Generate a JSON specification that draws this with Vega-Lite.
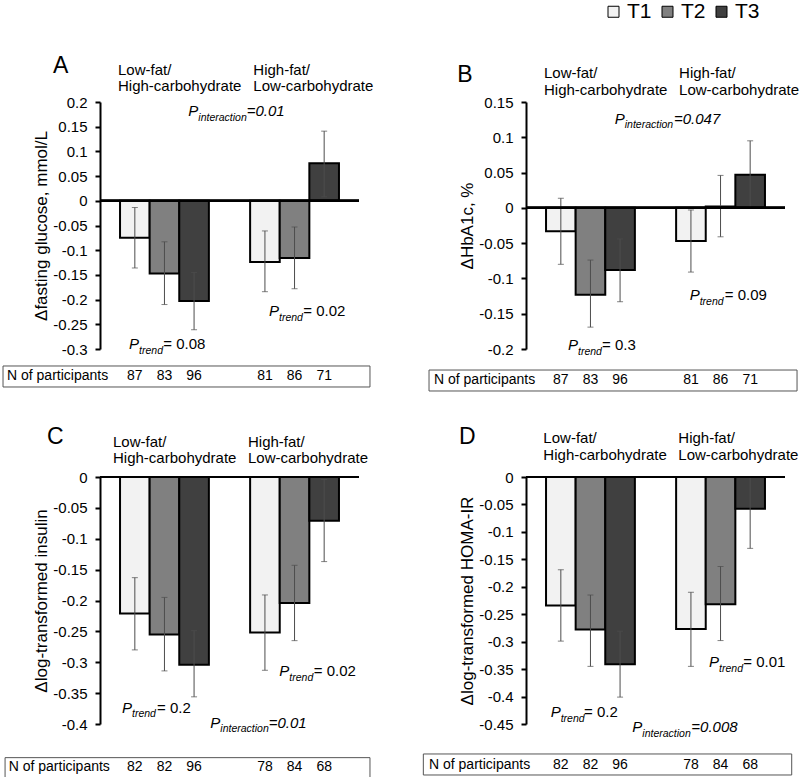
{
 "$schema": "https://vega.github.io/schema/vega-lite/v6.json",
 "padding": {"left": 2, "top": 1, "right": 0, "bottom": 0},
 "columns": 2,
 "spacing": {"row": 128, "column": 167},
 "bounds": "flush",
 "resolve": {"scale": {"fill": "independent"}, "legend": {"fill": "independent"}},
 "datasets": {
  "a": [
   {"g": "L", "t": "T1", "v": -0.075, "lo": -0.136, "hi": -0.0135, "n": 87},
   {"g": "L", "t": "T2", "v": -0.147, "lo": -0.21, "hi": -0.083, "n": 83},
   {"g": "L", "t": "T3", "v": -0.203, "lo": -0.261, "hi": -0.145, "n": 96},
   {"g": "H", "t": "T1", "v": -0.124, "lo": -0.184, "hi": -0.061, "n": 81},
   {"g": "H", "t": "T2", "v": -0.116, "lo": -0.178, "hi": -0.053, "n": 86},
   {"g": "H", "t": "T3", "v": 0.076, "lo": 0.008, "hi": 0.141, "n": 71}
  ],
  "b": [
   {"g": "L", "t": "T1", "v": -0.033, "lo": -0.08, "hi": 0.0136, "n": 87},
   {"g": "L", "t": "T2", "v": -0.123, "lo": -0.169, "hi": -0.074, "n": 83},
   {"g": "L", "t": "T3", "v": -0.088, "lo": -0.133, "hi": -0.044, "n": 96},
   {"g": "H", "t": "T1", "v": -0.047, "lo": -0.091, "hi": -0.003, "n": 81},
   {"g": "H", "t": "T2", "v": 0.002, "lo": -0.041, "hi": 0.046, "n": 86},
   {"g": "H", "t": "T3", "v": 0.047, "lo": 0.0, "hi": 0.095, "n": 71}
  ],
  "c": [
   {"g": "L", "t": "T1", "v": -0.221, "lo": -0.28, "hi": -0.163, "n": 82},
   {"g": "L", "t": "T2", "v": -0.255, "lo": -0.314, "hi": -0.195, "n": 82},
   {"g": "L", "t": "T3", "v": -0.304, "lo": -0.356, "hi": -0.249, "n": 96},
   {"g": "H", "t": "T1", "v": -0.252, "lo": -0.313, "hi": -0.191, "n": 78},
   {"g": "H", "t": "T2", "v": -0.204, "lo": -0.265, "hi": -0.143, "n": 84},
   {"g": "H", "t": "T3", "v": -0.071, "lo": -0.137, "hi": -0.004, "n": 68}
  ],
  "d": [
   {"g": "L", "t": "T1", "v": -0.234, "lo": -0.299, "hi": -0.169, "n": 82},
   {"g": "L", "t": "T2", "v": -0.278, "lo": -0.345, "hi": -0.215, "n": 82},
   {"g": "L", "t": "T3", "v": -0.341, "lo": -0.401, "hi": -0.281, "n": 96},
   {"g": "H", "t": "T1", "v": -0.277, "lo": -0.345, "hi": -0.21, "n": 78},
   {"g": "H", "t": "T2", "v": -0.232, "lo": -0.298, "hi": -0.163, "n": 84},
   {"g": "H", "t": "T3", "v": -0.058, "lo": -0.13, "hi": 0.0, "n": 68}
  ]
 },
 "concat": [
  {
   "width": 259, "height": 247,
   "data": {"name": "a"},
   "layer": [
    {"mark": {"type": "bar", "stroke": "black", "strokeWidth": 2},
     "encoding": {
      "x": {"field": "g", "type": "nominal", "scale": {"domain": ["L", "H"], "paddingInner": 0.317, "paddingOuter": 0.154}, "axis": null},
      "xOffset": {"field": "t", "type": "nominal", "scale": {"domain": ["T1", "T2", "T3"], "paddingInner": 0, "paddingOuter": 0}},
      "y": {"field": "v", "type": "quantitative", "title": "Δfasting glucose, mmol/L", "scale": {"domain": [-0.3, 0.2], "nice": false, "zero": false},
            "axis": {"values": [0.2, 0.15, 0.1, 0.05, 0, -0.05, -0.1, -0.15, -0.2, -0.25, -0.3], "tickCount": 30, "labelExpr": "toString(datum.value)", "labelOverlap": false}},
      "fill": {"field": "t", "type": "nominal", "scale": {"domain": ["T1", "T2", "T3"], "range": ["#f2f2f2", "#808080", "#404040"]}, "legend": null}
     }},
    {"mark": {"type": "rule", "color": "#4d4d4d", "strokeWidth": 1},
     "encoding": {"x": {"field": "g", "type": "nominal"}, "xOffset": {"field": "t", "type": "nominal"},
      "y": {"field": "lo", "type": "quantitative", "title": "Δfasting glucose, mmol/L"}, "y2": {"field": "hi"}}},
    {"mark": {"type": "tick", "color": "#4d4d4d", "thickness": 1, "size": 6},
     "encoding": {"x": {"field": "g", "type": "nominal"}, "xOffset": {"field": "t", "type": "nominal"},
      "y": {"field": "lo", "type": "quantitative", "title": "Δfasting glucose, mmol/L"}}},
    {"mark": {"type": "tick", "color": "#4d4d4d", "thickness": 1, "size": 6},
     "encoding": {"x": {"field": "g", "type": "nominal"}, "xOffset": {"field": "t", "type": "nominal"},
      "y": {"field": "hi", "type": "quantitative", "title": "Δfasting glucose, mmol/L"}}},
    {"mark": {"type": "rule", "color": "black", "strokeWidth": 2}, "encoding": {"y": {"datum": 0, "type": "quantitative"}}},
    {"mark": {"type": "text", "fontSize": 14},
     "encoding": {"x": {"field": "g", "type": "nominal"}, "xOffset": {"field": "t", "type": "nominal"},
      "y": {"datum": -0.3628, "type": "quantitative"}, "text": {"field": "n", "type": "quantitative"}}},
    {"data": {"values": [{}]}, "mark": {"type": "rect", "fill": null, "stroke": "#555", "strokeWidth": 1},
     "encoding": {"x": {"datum": "L", "type": "nominal", "bandPosition": -1.317}, "x2": {"datum": "H", "bandPosition": 1.349},
      "y": {"datum": -0.3344, "type": "quantitative"}, "y2": {"datum": -0.3769}}},
    {"data": {"values": [{}]}, "mark": {"type": "text", "text": "N of participants", "fontSize": 14, "align": "left"},
     "encoding": {"x": {"datum": "L", "type": "nominal", "bandPosition": -1.272}, "y": {"datum": -0.3628, "type": "quantitative"}}},
    {"data": {"values": [{}]}, "mark": {"type": "text", "text": "A", "fontSize": 23, "align": "left"},
     "encoding": {"x": {"datum": "L", "type": "nominal", "bandPosition": -0.754}, "y": {"datum": 0.2587, "type": "quantitative"}}},
    {"data": {"values": [{}]}, "mark": {"type": "text", "text": ["Low-fat/", "High-carbohydrate"], "lineHeight": 16.5, "align": "left"},
     "encoding": {"x": {"datum": "L", "type": "nominal", "bandPosition": -0.023}, "y": {"datum": 0.2547, "type": "quantitative"}}},
    {"data": {"values": [{}]}, "mark": {"type": "text", "text": ["High-fat/", "Low-carbohydrate"], "lineHeight": 16.5, "align": "left"},
     "encoding": {"x": {"datum": "H", "type": "nominal", "bandPosition": 0.036}, "y": {"datum": 0.2547, "type": "quantitative"}}},
    {"data": {"values": [{}]}, "mark": {"type": "text", "text": "P", "fontStyle": "italic", "align": "right"},
     "encoding": {"x": {"datum": "L", "type": "nominal", "bandPosition": 0.881}, "y": {"datum": 0.171, "type": "quantitative"}}},
    {"data": {"values": [{}]}, "mark": {"type": "text", "text": "interaction", "fontStyle": "italic", "fontSize": 10.5, "align": "left", "dy": 4.5},
     "encoding": {"x": {"datum": "L", "type": "nominal", "bandPosition": 0.881}, "y": {"datum": 0.171, "type": "quantitative"}}},
    {"data": {"values": [{}]}, "mark": {"type": "text", "text": "=0.01", "fontStyle": "italic", "align": "left"},
     "encoding": {"x": {"datum": "H", "type": "nominal", "bandPosition": -0.038}, "y": {"datum": 0.171, "type": "quantitative"}}},
    {"data": {"values": [{}]}, "mark": {"type": "text", "text": "P", "fontStyle": "italic", "align": "right"},
     "encoding": {"x": {"datum": "L", "type": "nominal", "bandPosition": 0.214}, "y": {"datum": -0.3, "type": "quantitative"}}},
    {"data": {"values": [{}]}, "mark": {"type": "text", "text": "trend", "fontStyle": "italic", "fontSize": 10.5, "align": "left", "dy": 4.5},
     "encoding": {"x": {"datum": "L", "type": "nominal", "bandPosition": 0.214}, "y": {"datum": -0.3, "type": "quantitative"}}},
    {"data": {"values": [{}]}, "mark": {"type": "text", "text": "= 0.08", "align": "left"},
     "encoding": {"x": {"datum": "L", "type": "nominal", "bandPosition": 0.487}, "y": {"datum": -0.3, "type": "quantitative"}}},
    {"data": {"values": [{}]}, "mark": {"type": "text", "text": "P", "fontStyle": "italic", "align": "right"},
     "encoding": {"x": {"datum": "H", "type": "nominal", "bandPosition": 0.325}, "y": {"datum": -0.2338, "type": "quantitative"}}},
    {"data": {"values": [{}]}, "mark": {"type": "text", "text": "trend", "fontStyle": "italic", "fontSize": 10.5, "align": "left", "dy": 4.5},
     "encoding": {"x": {"datum": "H", "type": "nominal", "bandPosition": 0.325}, "y": {"datum": -0.2338, "type": "quantitative"}}},
    {"data": {"values": [{}]}, "mark": {"type": "text", "text": "= 0.02", "align": "left"},
     "encoding": {"x": {"datum": "H", "type": "nominal", "bandPosition": 0.599}, "y": {"datum": -0.2338, "type": "quantitative"}}}
   ]
  },
  {
   "width": 259, "height": 247,
   "data": {"name": "b"},
   "layer": [
    {"mark": {"type": "bar", "stroke": "black", "strokeWidth": 2},
     "encoding": {
      "x": {"field": "g", "type": "nominal", "scale": {"domain": ["L", "H"], "paddingInner": 0.317, "paddingOuter": 0.154}, "axis": null},
      "xOffset": {"field": "t", "type": "nominal", "scale": {"domain": ["T1", "T2", "T3"], "paddingInner": 0, "paddingOuter": 0}},
      "y": {"field": "v", "type": "quantitative", "title": "ΔHbA1c, %", "scale": {"domain": [-0.2, 0.15], "nice": false, "zero": false},
            "axis": {"values": [0.15, 0.1, 0.05, 0, -0.05, -0.1, -0.15, -0.2], "tickCount": 30, "labelExpr": "toString(datum.value)", "labelOverlap": false}},
      "fill": {"field": "t", "type": "nominal", "scale": {"domain": ["T1", "T2", "T3"], "range": ["#f2f2f2", "#808080", "#404040"]},
               "legend": {"title": null, "orient": "none", "legendX": 77, "legendY": -101, "direction": "horizontal", "symbolType": "square", "symbolSize": 121,
                          "symbolStrokeColor": "black", "symbolStrokeWidth": 1, "labelFontSize": 21, "labelOffset": 3, "columnPadding": 5, "padding": 0, "labelColor": "black"}}
     }},
    {"mark": {"type": "rule", "color": "#4d4d4d", "strokeWidth": 1},
     "encoding": {"x": {"field": "g", "type": "nominal"}, "xOffset": {"field": "t", "type": "nominal"},
      "y": {"field": "lo", "type": "quantitative", "title": "ΔHbA1c, %"}, "y2": {"field": "hi"}}},
    {"mark": {"type": "tick", "color": "#4d4d4d", "thickness": 1, "size": 6},
     "encoding": {"x": {"field": "g", "type": "nominal"}, "xOffset": {"field": "t", "type": "nominal"},
      "y": {"field": "lo", "type": "quantitative", "title": "ΔHbA1c, %"}}},
    {"mark": {"type": "tick", "color": "#4d4d4d", "thickness": 1, "size": 6},
     "encoding": {"x": {"field": "g", "type": "nominal"}, "xOffset": {"field": "t", "type": "nominal"},
      "y": {"field": "hi", "type": "quantitative", "title": "ΔHbA1c, %"}}},
    {"mark": {"type": "rule", "color": "black", "strokeWidth": 2}, "encoding": {"y": {"datum": 0, "type": "quantitative"}}},
    {"mark": {"type": "text", "fontSize": 14},
     "encoding": {"x": {"field": "g", "type": "nominal"}, "xOffset": {"field": "t", "type": "nominal"},
      "y": {"datum": -0.25, "type": "quantitative"}, "text": {"field": "n", "type": "quantitative"}}},
    {"data": {"values": [{}]}, "mark": {"type": "rect", "fill": null, "stroke": "#555", "strokeWidth": 1},
     "encoding": {"x": {"datum": "L", "type": "nominal", "bandPosition": -1.317}, "x2": {"datum": "H", "bandPosition": 1.361},
      "y": {"datum": -0.2298, "type": "quantitative"}, "y2": {"datum": -0.2595}}},
    {"data": {"values": [{}]}, "mark": {"type": "text", "text": "N of participants", "fontSize": 14, "align": "left"},
     "encoding": {"x": {"datum": "L", "type": "nominal", "bandPosition": -1.261}, "y": {"datum": -0.25, "type": "quantitative"}}},
    {"data": {"values": [{}]}, "mark": {"type": "text", "text": "B", "fontSize": 23, "align": "left"},
     "encoding": {"x": {"datum": "L", "type": "nominal", "bandPosition": -0.998}, "y": {"datum": 0.1783, "type": "quantitative"}}},
    {"data": {"values": [{}]}, "mark": {"type": "text", "text": ["Low-fat/", "High-carbohydrate"], "lineHeight": 16.5, "align": "left"},
     "encoding": {"x": {"datum": "L", "type": "nominal", "bandPosition": -0.023}, "y": {"datum": 0.184, "type": "quantitative"}}},
    {"data": {"values": [{}]}, "mark": {"type": "text", "text": ["High-fat/", "Low-carbohydrate"], "lineHeight": 16.5, "align": "left"},
     "encoding": {"x": {"datum": "H", "type": "nominal", "bandPosition": 0.033}, "y": {"datum": 0.184, "type": "quantitative"}}},
    {"data": {"values": [{}]}, "mark": {"type": "text", "text": "P", "fontStyle": "italic", "align": "right"},
     "encoding": {"x": {"datum": "L", "type": "nominal", "bandPosition": 0.886}, "y": {"datum": 0.1193, "type": "quantitative"}}},
    {"data": {"values": [{}]}, "mark": {"type": "text", "text": "interaction", "fontStyle": "italic", "fontSize": 10.5, "align": "left", "dy": 4.5},
     "encoding": {"x": {"datum": "L", "type": "nominal", "bandPosition": 0.886}, "y": {"datum": 0.1193, "type": "quantitative"}}},
    {"data": {"values": [{}]}, "mark": {"type": "text", "text": "=0.047", "fontStyle": "italic", "align": "left"},
     "encoding": {"x": {"datum": "H", "type": "nominal", "bandPosition": -0.024}, "y": {"datum": 0.1193, "type": "quantitative"}}},
    {"data": {"values": [{}]}, "mark": {"type": "text", "text": "P", "fontStyle": "italic", "align": "right"},
     "encoding": {"x": {"datum": "L", "type": "nominal", "bandPosition": 0.36}, "y": {"datum": -0.2018, "type": "quantitative"}}},
    {"data": {"values": [{}]}, "mark": {"type": "text", "text": "trend", "fontStyle": "italic", "fontSize": 10.5, "align": "left", "dy": 4.5},
     "encoding": {"x": {"datum": "L", "type": "nominal", "bandPosition": 0.36}, "y": {"datum": -0.2018, "type": "quantitative"}}},
    {"data": {"values": [{}]}, "mark": {"type": "text", "text": "= 0.3", "align": "left"},
     "encoding": {"x": {"datum": "L", "type": "nominal", "bandPosition": 0.63}, "y": {"datum": -0.2018, "type": "quantitative"}}},
    {"data": {"values": [{}]}, "mark": {"type": "text", "text": "P", "fontStyle": "italic", "align": "right"},
     "encoding": {"x": {"datum": "H", "type": "nominal", "bandPosition": 0.265}, "y": {"datum": -0.131, "type": "quantitative"}}},
    {"data": {"values": [{}]}, "mark": {"type": "text", "text": "trend", "fontStyle": "italic", "fontSize": 10.5, "align": "left", "dy": 4.5},
     "encoding": {"x": {"datum": "H", "type": "nominal", "bandPosition": 0.265}, "y": {"datum": -0.131, "type": "quantitative"}}},
    {"data": {"values": [{}]}, "mark": {"type": "text", "text": "= 0.09", "align": "left"},
     "encoding": {"x": {"datum": "H", "type": "nominal", "bandPosition": 0.547}, "y": {"datum": -0.131, "type": "quantitative"}}}
   ]
  },
  {
   "width": 259, "height": 247,
   "data": {"name": "c"},
   "layer": [
    {"mark": {"type": "bar", "stroke": "black", "strokeWidth": 2},
     "encoding": {
      "x": {"field": "g", "type": "nominal", "scale": {"domain": ["L", "H"], "paddingInner": 0.317, "paddingOuter": 0.154}, "axis": null},
      "xOffset": {"field": "t", "type": "nominal", "scale": {"domain": ["T1", "T2", "T3"], "paddingInner": 0, "paddingOuter": 0}},
      "y": {"field": "v", "type": "quantitative", "title": "Δlog-transformed insulin", "scale": {"domain": [-0.4, 0], "nice": false, "zero": false},
            "axis": {"values": [0, -0.05, -0.1, -0.15, -0.2, -0.25, -0.3, -0.35, -0.4], "tickCount": 30, "labelExpr": "toString(datum.value)", "labelOverlap": false}},
      "fill": {"field": "t", "type": "nominal", "scale": {"domain": ["T1", "T2", "T3"], "range": ["#f2f2f2", "#808080", "#404040"]}, "legend": null}
     }},
    {"mark": {"type": "rule", "color": "#4d4d4d", "strokeWidth": 1},
     "encoding": {"x": {"field": "g", "type": "nominal"}, "xOffset": {"field": "t", "type": "nominal"},
      "y": {"field": "lo", "type": "quantitative", "title": "Δlog-transformed insulin"}, "y2": {"field": "hi"}}},
    {"mark": {"type": "tick", "color": "#4d4d4d", "thickness": 1, "size": 6},
     "encoding": {"x": {"field": "g", "type": "nominal"}, "xOffset": {"field": "t", "type": "nominal"},
      "y": {"field": "lo", "type": "quantitative", "title": "Δlog-transformed insulin"}}},
    {"mark": {"type": "tick", "color": "#4d4d4d", "thickness": 1, "size": 6},
     "encoding": {"x": {"field": "g", "type": "nominal"}, "xOffset": {"field": "t", "type": "nominal"},
      "y": {"field": "hi", "type": "quantitative", "title": "Δlog-transformed insulin"}}},
    {"mark": {"type": "rule", "color": "black", "strokeWidth": 2}, "encoding": {"y": {"datum": 0, "type": "quantitative"}}},
    {"mark": {"type": "text", "fontSize": 14},
     "encoding": {"x": {"field": "g", "type": "nominal"}, "xOffset": {"field": "t", "type": "nominal"},
      "y": {"datum": -0.4761, "type": "quantitative"}, "text": {"field": "n", "type": "quantitative"}}},
    {"data": {"values": [{}]}, "mark": {"type": "rect", "fill": null, "stroke": "#555", "strokeWidth": 1},
     "encoding": {"x": {"datum": "L", "type": "nominal", "bandPosition": -1.294}, "x2": {"datum": "H", "bandPosition": 1.349},
      "y": {"datum": -0.4545, "type": "quantitative"}, "y2": {"datum": -0.487}}},
    {"data": {"values": [{}]}, "mark": {"type": "text", "text": "N of participants", "fontSize": 14, "align": "left"},
     "encoding": {"x": {"datum": "L", "type": "nominal", "bandPosition": -1.253}, "y": {"datum": -0.4761, "type": "quantitative"}}},
    {"data": {"values": [{}]}, "mark": {"type": "text", "text": "C", "fontSize": 23, "align": "left"},
     "encoding": {"x": {"datum": "L", "type": "nominal", "bandPosition": -0.822}, "y": {"datum": 0.0539, "type": "quantitative"}}},
    {"data": {"values": [{}]}, "mark": {"type": "text", "text": ["Low-fat/", "High-carbohydrate"], "lineHeight": 16.5, "align": "left"},
     "encoding": {"x": {"datum": "L", "type": "nominal", "bandPosition": -0.079}, "y": {"datum": 0.0486, "type": "quantitative"}}},
    {"data": {"values": [{}]}, "mark": {"type": "text", "text": ["High-fat/", "Low-carbohydrate"], "lineHeight": 16.5, "align": "left"},
     "encoding": {"x": {"datum": "H", "type": "nominal", "bandPosition": -0.024}, "y": {"datum": 0.0486, "type": "quantitative"}}},
    {"data": {"values": [{}]}, "mark": {"type": "text", "text": "P", "fontStyle": "italic", "align": "right"},
     "encoding": {"x": {"datum": "L", "type": "nominal", "bandPosition": 0.135}, "y": {"datum": -0.3817, "type": "quantitative"}}},
    {"data": {"values": [{}]}, "mark": {"type": "text", "text": "trend", "fontStyle": "italic", "fontSize": 10.5, "align": "left", "dy": 4.5},
     "encoding": {"x": {"datum": "L", "type": "nominal", "bandPosition": 0.135}, "y": {"datum": -0.3817, "type": "quantitative"}}},
    {"data": {"values": [{}]}, "mark": {"type": "text", "text": "= 0.2", "align": "left"},
     "encoding": {"x": {"datum": "L", "type": "nominal", "bandPosition": 0.417}, "y": {"datum": -0.3817, "type": "quantitative"}}},
    {"data": {"values": [{}]}, "mark": {"type": "text", "text": "P", "fontStyle": "italic", "align": "right"},
     "encoding": {"x": {"datum": "H", "type": "nominal", "bandPosition": 0.441}, "y": {"datum": -0.3223, "type": "quantitative"}}},
    {"data": {"values": [{}]}, "mark": {"type": "text", "text": "trend", "fontStyle": "italic", "fontSize": 10.5, "align": "left", "dy": 4.5},
     "encoding": {"x": {"datum": "H", "type": "nominal", "bandPosition": 0.441}, "y": {"datum": -0.3223, "type": "quantitative"}}},
    {"data": {"values": [{}]}, "mark": {"type": "text", "text": "= 0.02", "align": "left"},
     "encoding": {"x": {"datum": "H", "type": "nominal", "bandPosition": 0.716}, "y": {"datum": -0.3223, "type": "quantitative"}}},
    {"data": {"values": [{}]}, "mark": {"type": "text", "text": "P", "fontStyle": "italic", "align": "right"},
     "encoding": {"x": {"datum": "H", "type": "nominal", "bandPosition": -0.335}, "y": {"datum": -0.406, "type": "quantitative"}}},
    {"data": {"values": [{}]}, "mark": {"type": "text", "text": "interaction", "fontStyle": "italic", "fontSize": 10.5, "align": "left", "dy": 4.5},
     "encoding": {"x": {"datum": "H", "type": "nominal", "bandPosition": -0.335}, "y": {"datum": -0.406, "type": "quantitative"}}},
    {"data": {"values": [{}]}, "mark": {"type": "text", "text": "=0.01", "fontStyle": "italic", "align": "left"},
     "encoding": {"x": {"datum": "H", "type": "nominal", "bandPosition": 0.209}, "y": {"datum": -0.406, "type": "quantitative"}}}
   ]
  },
  {
   "width": 259, "height": 247,
   "data": {"name": "d"},
   "layer": [
    {"mark": {"type": "bar", "stroke": "black", "strokeWidth": 2},
     "encoding": {
      "x": {"field": "g", "type": "nominal", "scale": {"domain": ["L", "H"], "paddingInner": 0.317, "paddingOuter": 0.154}, "axis": null},
      "xOffset": {"field": "t", "type": "nominal", "scale": {"domain": ["T1", "T2", "T3"], "paddingInner": 0, "paddingOuter": 0}},
      "y": {"field": "v", "type": "quantitative", "title": "Δlog-transformed HOMA-IR", "scale": {"domain": [-0.45, 0], "nice": false, "zero": false},
            "axis": {"values": [0, -0.05, -0.1, -0.15, -0.2, -0.25, -0.3, -0.35, -0.4, -0.45], "tickCount": 30, "labelExpr": "toString(datum.value)", "labelOverlap": false}},
      "fill": {"field": "t", "type": "nominal", "scale": {"domain": ["T1", "T2", "T3"], "range": ["#f2f2f2", "#808080", "#404040"]}, "legend": null}
     }},
    {"mark": {"type": "rule", "color": "#4d4d4d", "strokeWidth": 1},
     "encoding": {"x": {"field": "g", "type": "nominal"}, "xOffset": {"field": "t", "type": "nominal"},
      "y": {"field": "lo", "type": "quantitative", "title": "Δlog-transformed HOMA-IR"}, "y2": {"field": "hi"}}},
    {"mark": {"type": "tick", "color": "#4d4d4d", "thickness": 1, "size": 6},
     "encoding": {"x": {"field": "g", "type": "nominal"}, "xOffset": {"field": "t", "type": "nominal"},
      "y": {"field": "lo", "type": "quantitative", "title": "Δlog-transformed HOMA-IR"}}},
    {"mark": {"type": "tick", "color": "#4d4d4d", "thickness": 1, "size": 6},
     "encoding": {"x": {"field": "g", "type": "nominal"}, "xOffset": {"field": "t", "type": "nominal"},
      "y": {"field": "hi", "type": "quantitative", "title": "Δlog-transformed HOMA-IR"}}},
    {"mark": {"type": "rule", "color": "black", "strokeWidth": 2}, "encoding": {"y": {"datum": 0, "type": "quantitative"}}},
    {"mark": {"type": "text", "fontSize": 14},
     "encoding": {"x": {"field": "g", "type": "nominal"}, "xOffset": {"field": "t", "type": "nominal"},
      "y": {"datum": -0.532, "type": "quantitative"}, "text": {"field": "n", "type": "quantitative"}}},
    {"data": {"values": [{}]}, "mark": {"type": "rect", "fill": null, "stroke": "#555", "strokeWidth": 1},
     "encoding": {"x": {"datum": "L", "type": "nominal", "bandPosition": -1.381}, "x2": {"datum": "H", "bandPosition": 1.301},
      "y": {"datum": -0.5046, "type": "quantitative"}, "y2": {"datum": -0.5429}}},
    {"data": {"values": [{}]}, "mark": {"type": "text", "text": "N of participants", "fontSize": 14, "align": "left"},
     "encoding": {"x": {"datum": "L", "type": "nominal", "bandPosition": -1.317}, "y": {"datum": -0.532, "type": "quantitative"}}},
    {"data": {"values": [{}]}, "mark": {"type": "text", "text": "D", "fontSize": 23, "align": "left"},
     "encoding": {"x": {"datum": "L", "type": "nominal", "bandPosition": -0.979}, "y": {"datum": 0.0601, "type": "quantitative"}}},
    {"data": {"values": [{}]}, "mark": {"type": "text", "text": ["Low-fat/", "High-carbohydrate"], "lineHeight": 16.5, "align": "left"},
     "encoding": {"x": {"datum": "L", "type": "nominal", "bandPosition": -0.03}, "y": {"datum": 0.0619, "type": "quantitative"}}},
    {"data": {"values": [{}]}, "mark": {"type": "text", "text": ["High-fat/", "Low-carbohydrate"], "lineHeight": 16.5, "align": "left"},
     "encoding": {"x": {"datum": "H", "type": "nominal", "bandPosition": 0.025}, "y": {"datum": 0.0619, "type": "quantitative"}}},
    {"data": {"values": [{}]}, "mark": {"type": "text", "text": "P", "fontStyle": "italic", "align": "right"},
     "encoding": {"x": {"datum": "L", "type": "nominal", "bandPosition": 0.165}, "y": {"datum": -0.4378, "type": "quantitative"}}},
    {"data": {"values": [{}]}, "mark": {"type": "text", "text": "trend", "fontStyle": "italic", "fontSize": 10.5, "align": "left", "dy": 4.5},
     "encoding": {"x": {"datum": "L", "type": "nominal", "bandPosition": 0.165}, "y": {"datum": -0.4378, "type": "quantitative"}}},
    {"data": {"values": [{}]}, "mark": {"type": "text", "text": "= 0.2", "align": "left"},
     "encoding": {"x": {"datum": "L", "type": "nominal", "bandPosition": 0.428}, "y": {"datum": -0.4378, "type": "quantitative"}}},
    {"data": {"values": [{}]}, "mark": {"type": "text", "text": "P", "fontStyle": "italic", "align": "right"},
     "encoding": {"x": {"datum": "H", "type": "nominal", "bandPosition": 0.483}, "y": {"datum": -0.3467, "type": "quantitative"}}},
    {"data": {"values": [{}]}, "mark": {"type": "text", "text": "trend", "fontStyle": "italic", "fontSize": 10.5, "align": "left", "dy": 4.5},
     "encoding": {"x": {"datum": "H", "type": "nominal", "bandPosition": 0.483}, "y": {"datum": -0.3467, "type": "quantitative"}}},
    {"data": {"values": [{}]}, "mark": {"type": "text", "text": "= 0.01", "align": "left"},
     "encoding": {"x": {"datum": "H", "type": "nominal", "bandPosition": 0.756}, "y": {"datum": -0.3467, "type": "quantitative"}}},
    {"data": {"values": [{}]}, "mark": {"type": "text", "text": "P", "fontStyle": "italic", "align": "right"},
     "encoding": {"x": {"datum": "H", "type": "nominal", "bandPosition": -0.38}, "y": {"datum": -0.4651, "type": "quantitative"}}},
    {"data": {"values": [{}]}, "mark": {"type": "text", "text": "interaction", "fontStyle": "italic", "fontSize": 10.5, "align": "left", "dy": 4.5},
     "encoding": {"x": {"datum": "H", "type": "nominal", "bandPosition": -0.38}, "y": {"datum": -0.4651, "type": "quantitative"}}},
    {"data": {"values": [{}]}, "mark": {"type": "text", "text": "=0.008", "fontStyle": "italic", "align": "left"},
     "encoding": {"x": {"datum": "H", "type": "nominal", "bandPosition": 0.171}, "y": {"datum": -0.4651, "type": "quantitative"}}}
   ]
  }
 ],
 "config": {
  "font": "Liberation Sans",
  "view": {"stroke": null},
  "text": {"fontSize": 15, "baseline": "alphabetic", "color": "black", "font": "Liberation Sans"},
  "axis": {"domainColor": "black", "domainWidth": 2, "tickColor": "black", "tickWidth": 2, "tickSize": 5, "labelFontSize": 15, "labelColor": "black",
           "labelPadding": 8, "labelOverlap": false, "titleFontSize": 17, "titleFontWeight": "normal", "titleColor": "black", "titlePadding": 2, "grid": false,
           "labelFont": "Liberation Sans", "titleFont": "Liberation Sans"},
  "legend": {"labelFont": "Liberation Sans"}
 }
}
